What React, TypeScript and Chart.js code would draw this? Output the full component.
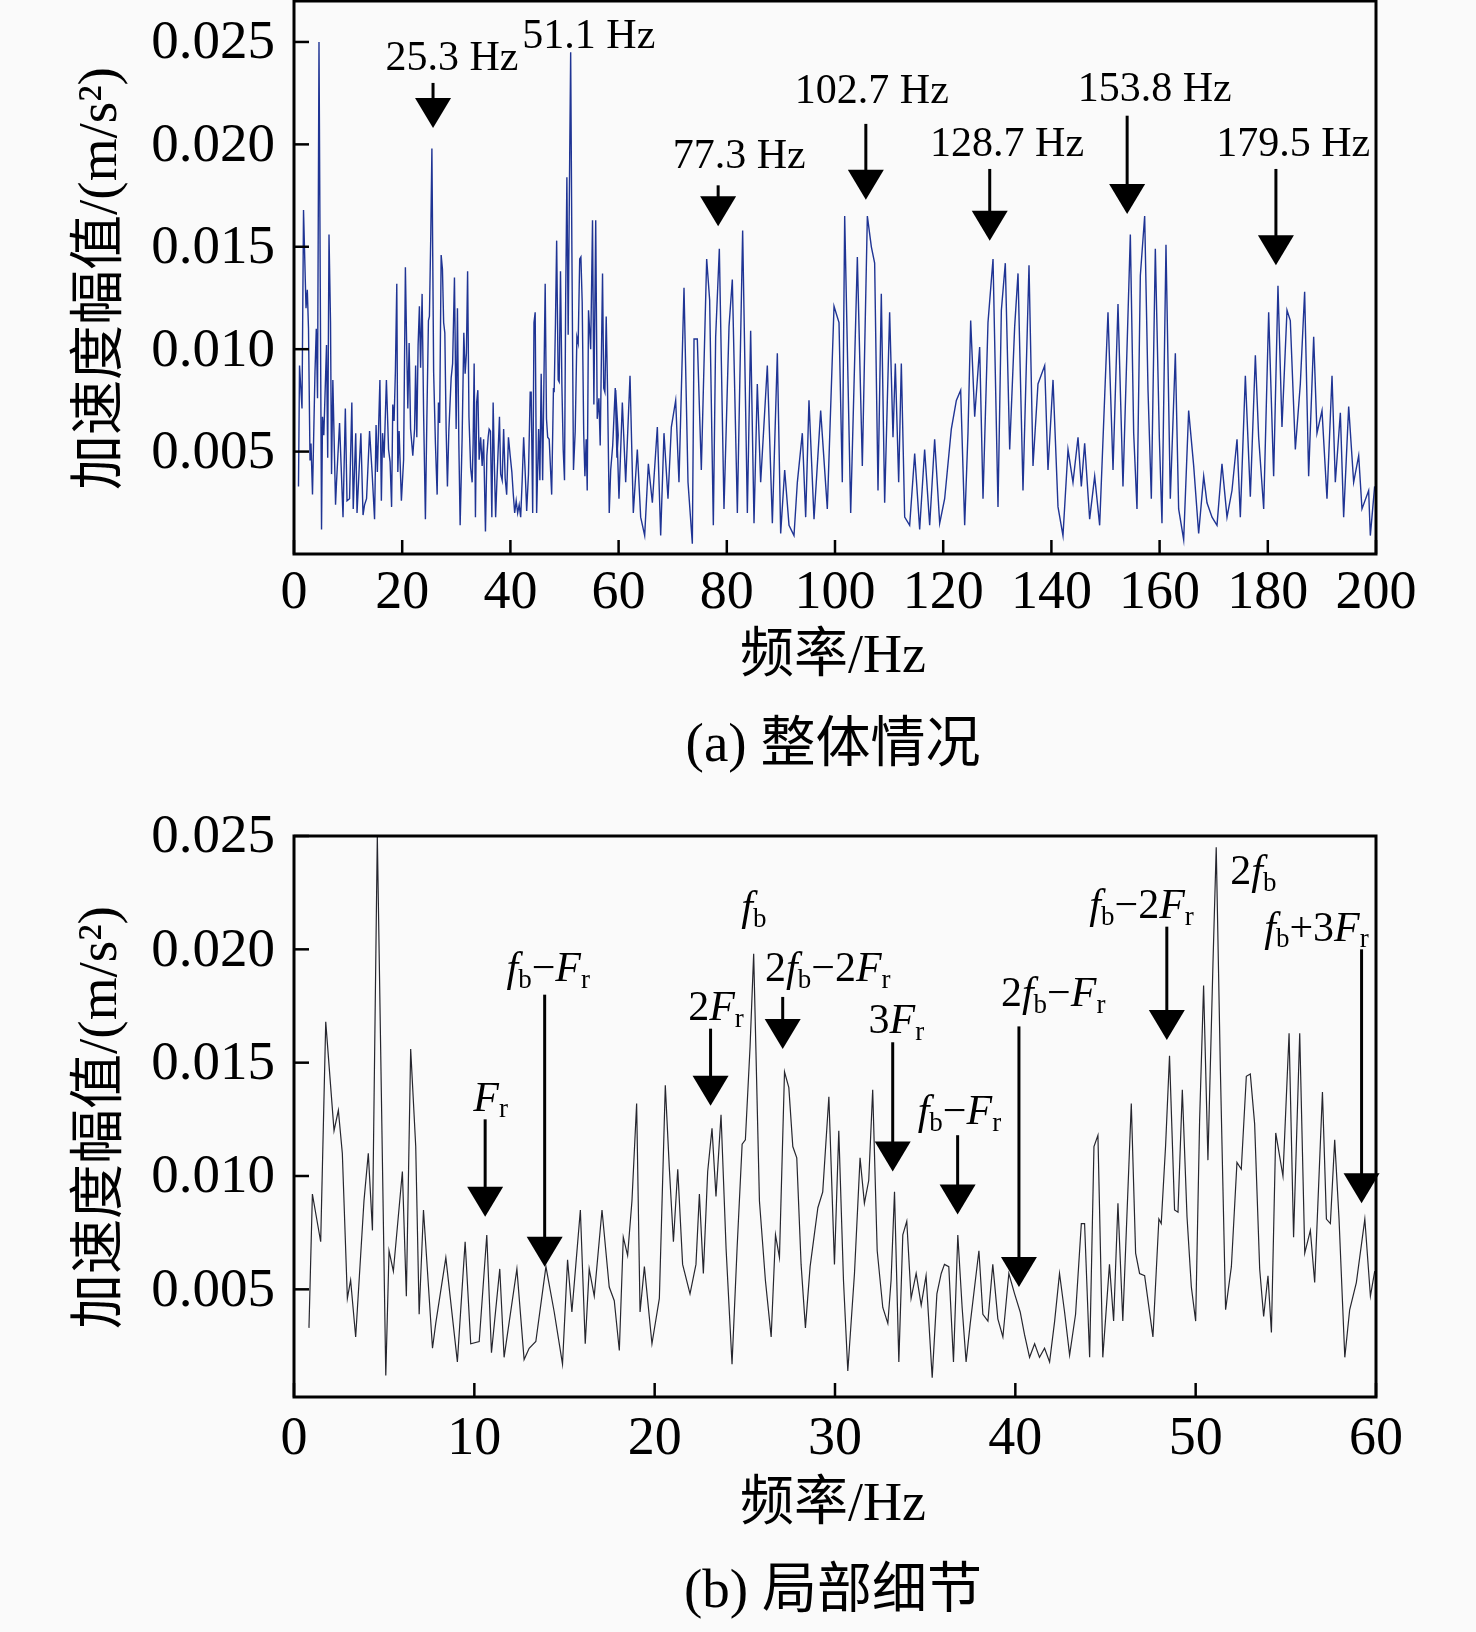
import React, { useEffect, useRef } from "react";
import { Chart, registerables } from "chart.js";

Chart.register(...registerables);

// ---------- data ----------
// 0.8 – 60 Hz band (shown in both panels)
const freqLow = [
  0.83, 1.02, 1.48, 1.76, 2.22, 2.46, 2.68, 2.96, 3.14, 3.42,
  3.88, 4.12, 4.35, 4.62, 5.09, 5.27, 5.51, 6.01, 6.23, 6.47,
  6.75, 6.94, 7.18, 7.68, 7.86, 8.42, 9.06, 9.49, 9.8, 10.27,
  10.69, 10.95, 11.41, 11.65, 12.36, 12.76, 13.04, 13.41, 13.97, 14.43,
  14.89, 15.17, 15.41, 15.63, 15.88, 16.15, 16.37, 16.65, 17.08, 17.48,
  17.76, 18.04, 18.26, 18.5, 18.74, 19.0, 19.19, 19.43, 19.85, 20.26,
  20.59, 20.81, 21.04, 21.28, 21.55, 21.96, 22.29, 22.48, 22.7, 22.94,
  23.18, 23.4, 23.68, 23.96, 24.29, 24.57, 24.85, 25.03, 25.29, 25.49,
  25.81, 26.14, 26.46, 26.7, 26.92, 27.2, 27.44, 27.66, 27.88, 28.12,
  28.36, 28.62, 29.05, 29.32, 29.66, 29.97, 30.21, 30.47, 30.71, 31.08,
  31.39, 31.63, 31.87, 32.09, 32.34, 32.65, 32.93, 33.11, 33.3, 33.54,
  33.76, 33.98, 34.22, 34.5, 34.78, 35.05, 35.39, 35.65, 35.89, 36.07,
  36.31, 36.57, 36.81, 37.05, 37.27, 37.5, 37.98, 38.2, 38.48, 38.75,
  39.03, 39.31, 39.64, 39.96, 40.27, 40.51, 40.79, 41.07, 41.34, 41.62,
  41.9, 42.18, 42.45, 42.73, 43.01, 43.34, 43.66, 43.84, 44.12, 44.36,
  44.58, 44.85, 45.22, 45.45, 45.69, 45.96, 46.43, 46.67, 46.89, 47.17,
  47.63, 47.96, 48.09, 48.33, 48.55, 48.83, 49.02, 49.26, 49.52, 49.76,
  50.0, 50.22, 50.44, 50.68, 50.96, 51.14, 51.37, 51.66, 51.98, 52.29,
  52.53, 52.81, 53.03, 53.27, 53.55, 53.77, 54.01, 54.2, 54.44, 54.84,
  55.18, 55.43, 55.77, 56.05, 56.36, 56.6, 57.03, 57.25, 57.47, 57.71,
  57.95, 58.27, 58.54, 58.91, 59.38, 59.69, 59.93,
];
const ampLow = [
  0.0033, 0.0092, 0.0071, 0.0168, 0.012, 0.0129, 0.011, 0.0046, 0.0054, 0.0029,
  0.0089, 0.011, 0.0076, 0.025, 0.0012, 0.0067, 0.0058, 0.0102, 0.0047, 0.0156,
  0.0113, 0.0039, 0.0085, 0.0024, 0.0035, 0.0064, 0.0018, 0.0071, 0.0026, 0.0027,
  0.0074, 0.0022, 0.0059, 0.002, 0.0059, 0.0019, 0.0024, 0.0027, 0.006, 0.004,
  0.0017, 0.0063, 0.004, 0.0061, 0.0085, 0.0026, 0.0059, 0.0047, 0.0085, 0.0051,
  0.0045, 0.0023, 0.0073, 0.0065, 0.0089, 0.0132, 0.004, 0.006, 0.0026, 0.0046,
  0.014, 0.0104, 0.0071, 0.0103, 0.0061, 0.0048, 0.0061, 0.0092, 0.0057, 0.0102,
  0.0121, 0.0091, 0.0127, 0.0068, 0.0017, 0.0068, 0.0114, 0.0116, 0.0157, 0.0198,
  0.0089, 0.0054, 0.0029, 0.0074, 0.0064, 0.0146, 0.0139, 0.0113, 0.0108, 0.0061,
  0.0033, 0.006, 0.0086, 0.0093, 0.0135, 0.0061, 0.012, 0.0054, 0.0014, 0.0057,
  0.0108, 0.0088, 0.0098, 0.0138, 0.0067, 0.0042, 0.0035, 0.0054, 0.0093, 0.0018,
  0.0074, 0.008, 0.0046, 0.0057, 0.0043, 0.0056, 0.0011, 0.0048, 0.0057, 0.0061,
  0.006, 0.0018, 0.0074, 0.0042, 0.0018, 0.0035, 0.0067, 0.0039, 0.0036, 0.0061,
  0.0037, 0.0029, 0.0057, 0.0048, 0.004, 0.003, 0.002, 0.0026, 0.002, 0.0024,
  0.0018, 0.0036, 0.0057, 0.004, 0.0021, 0.0039, 0.0079, 0.0079, 0.002, 0.0113,
  0.0118, 0.002, 0.0061, 0.0036, 0.0088, 0.0036, 0.0132, 0.0066, 0.0057, 0.0056,
  0.0029, 0.0081, 0.0079, 0.0113, 0.0153, 0.0085, 0.0084, 0.0138, 0.0082, 0.0051,
  0.0036, 0.0125, 0.0184, 0.0107, 0.0194, 0.0245, 0.0147, 0.0041, 0.006, 0.0106,
  0.0103, 0.0144, 0.0145, 0.0123, 0.0059, 0.0038, 0.0056, 0.0031, 0.0119, 0.01,
  0.0163, 0.0073, 0.0163, 0.0066, 0.0076, 0.0053, 0.0137, 0.0081, 0.0079, 0.0116,
  0.0081, 0.002, 0.0041, 0.0053, 0.0081, 0.0047, 0.0058,
];

// 60 – 200 Hz band (panel a only)
const freqHigh = [
  59.46, 60.07, 60.69, 61.31, 62.11, 62.72, 63.46, 64.08, 64.82, 65.5,
  66.24, 67.16, 67.78, 68.39, 69.13, 69.75, 70.55, 71.16, 72.09, 72.83,
  73.63, 73.94, 74.55, 75.29, 76.28, 76.83, 77.51, 77.94, 78.62, 79.48,
  80.41, 81.02, 81.95, 82.93, 83.8, 84.41, 85.03, 85.64, 86.26, 87.49,
  88.42, 89.34, 89.96, 90.7, 91.5, 92.42, 93.04, 93.96, 94.58, 95.19,
  96.12, 97.35, 98.58, 99.82, 100.74, 101.35, 101.79, 102.9, 104.13, 105.05,
  105.98,
  106.72, 107.33, 107.95, 108.56, 109.18, 110.1, 110.72, 111.15, 111.77, 112.26,
  112.88, 113.8, 114.73, 115.65, 116.57, 117.5, 118.42, 119.35, 120.27, 121.5,
  122.43, 123.23, 123.97, 124.58, 125.08, 125.82, 126.74, 127.36, 128.28, 129.21,
  130.13, 130.75, 131.48, 132.29, 133.21, 133.83, 134.75, 135.86, 136.6, 137.52,
  138.76, 139.37, 140.3, 141.22, 142.14, 143.07, 143.99, 144.92, 145.53, 146.15,
  147.07, 148.0, 148.92, 149.85, 150.46, 151.39, 152.31, 153.23,
  154.59, 155.21, 155.82, 156.44, 157.24, 157.86, 158.47, 159.21, 159.95, 160.44,
  161.18, 161.98, 162.91, 163.52, 164.45, 165.37, 166.3, 167.22, 168.15, 168.76,
  169.69, 170.61, 171.53, 172.46, 173.38, 174.31, 174.92, 175.85, 176.77, 177.7,
  178.31, 179.24, 180.16, 181.08, 181.88, 182.62, 183.55, 184.16, 185.09, 186.01,
  186.81, 187.55, 188.48, 189.09, 190.02, 190.94, 191.87, 192.48, 193.41, 194.02,
  194.95, 195.87, 196.8, 197.41, 198.64, 198.95, 199.75,
];
const ampHigh = [
  0.008, 0.0027, 0.0074, 0.0035, 0.0087, 0.002, 0.0051, 0.0018, 0.0009, 0.0044,
  0.0025, 0.0062, 0.0009, 0.0059, 0.0027, 0.0062, 0.0075, 0.0035, 0.013, 0.0035,
  0.0005, 0.0105, 0.0105, 0.0041, 0.0144, 0.0124, 0.0014, 0.0106, 0.0149, 0.0022,
  0.0111, 0.0134, 0.002, 0.0158, 0.002, 0.0109, 0.0015, 0.0083, 0.0035, 0.0092,
  0.0015, 0.0098, 0.001, 0.0041, 0.0014, 0.0009, 0.0035, 0.0059, 0.0018, 0.0075,
  0.0017, 0.007, 0.0022, 0.0121, 0.0113, 0.0035, 0.0165, 0.002, 0.0145, 0.0043,
  0.0165,
  0.015, 0.0142, 0.0031, 0.0127, 0.0025, 0.0118, 0.0057, 0.0093, 0.0035, 0.0093,
  0.0018, 0.0014, 0.0049, 0.0012, 0.0051, 0.0014, 0.0056, 0.0015, 0.0027, 0.0061,
  0.0075, 0.008, 0.0014, 0.0059, 0.0114, 0.0067, 0.0101, 0.0027, 0.0113, 0.0144,
  0.0023, 0.0119, 0.0142, 0.0051, 0.0111, 0.0137, 0.0031, 0.0141, 0.0043, 0.0083,
  0.0092, 0.0041, 0.0085, 0.0023, 0.0009, 0.0051, 0.0035, 0.0057, 0.0033, 0.0054,
  0.0017, 0.0038, 0.0014, 0.0077, 0.0118, 0.0041, 0.0122, 0.0033,
  0.0156, 0.0059, 0.0022, 0.0136, 0.0165, 0.008, 0.0027, 0.0149, 0.0057, 0.0015,
  0.0151, 0.0027, 0.0098, 0.0022, 0.0007, 0.007, 0.0043, 0.001, 0.0038, 0.0025,
  0.0018, 0.0014, 0.0044, 0.0018, 0.0031, 0.0056, 0.0018, 0.0087, 0.0028, 0.0097,
  0.0057, 0.0022, 0.0118, 0.0038, 0.0131, 0.0062, 0.0119, 0.0114, 0.0051, 0.0083,
  0.0128, 0.0038, 0.0106, 0.0059, 0.007, 0.0027, 0.0087, 0.0035, 0.0069, 0.0018,
  0.0072, 0.0035, 0.0048, 0.0022, 0.0031, 0.0009, 0.0033,
];

const xTicksA = [0, 20, 40, 60, 80, 100, 120, 140, 160, 180, 200];
const xTicksB = [0, 10, 20, 30, 40, 50, 60];
const yTickValues = [0.005, 0.01, 0.015, 0.02, 0.025];
const yTickLabels = ["0.005", "0.010", "0.015", "0.020", "0.025"];

const yTitle = "加速度幅值/(m/s²)";
const xTitle = "频率/Hz";
const captionA = "(a) 整体情况";
const captionB = "(b) 局部细节";

// annotations: label text, label centre (lx, ly), arrow x, arrow shaft top, arrow tip (data units)
type Ann = { text: string; lx: number; ly: number; ax?: number; top?: number; tip?: number };
const annotationsA: Ann[] = [
  { text: "25.3 Hz", lx: 29.2, ly: 0.0243, ax: 25.7, top: 0.023, tip: 0.0208 },
  { text: "51.1 Hz", lx: 54.5, ly: 0.0254 },
  { text: "77.3 Hz", lx: 82.3, ly: 0.0195, ax: 78.4, top: 0.018, tip: 0.016 },
  { text: "102.7 Hz", lx: 106.8, ly: 0.0227, ax: 105.7, top: 0.021, tip: 0.0173 },
  { text: "128.7 Hz", lx: 131.8, ly: 0.0201, ax: 128.6, top: 0.0188, tip: 0.0153 },
  { text: "153.8 Hz", lx: 159.1, ly: 0.0228, ax: 154.0, top: 0.0214, tip: 0.0166 },
  { text: "179.5 Hz", lx: 184.7, ly: 0.0201, ax: 181.5, top: 0.0188, tip: 0.0141 },
];
const annotationsB: Ann[] = [
  { text: "F_r", lx: 10.9, ly: 0.0135, ax: 10.6, top: 0.0125, tip: 0.0082 },
  { text: "f_b−F_r", lx: 14.1, ly: 0.0192, ax: 13.9, top: 0.018, tip: 0.006 },
  { text: "2F_r", lx: 23.4, ly: 0.0175, ax: 23.1, top: 0.0165, tip: 0.0131 },
  { text: "f_b", lx: 25.5, ly: 0.0219 },
  { text: "2f_b−2F_r", lx: 29.6, ly: 0.0192, ax: 27.1, top: 0.0179, tip: 0.0156 },
  { text: "3F_r", lx: 33.4, ly: 0.0169, ax: 33.2, top: 0.0159, tip: 0.0102 },
  { text: "f_b−F_r", lx: 36.9, ly: 0.0129, ax: 36.8, top: 0.0118, tip: 0.0083 },
  { text: "2f_b−F_r", lx: 42.1, ly: 0.0181, ax: 40.2, top: 0.0166, tip: 0.0051 },
  { text: "f_b−2F_r", lx: 47.0, ly: 0.022, ax: 48.4, top: 0.021, tip: 0.016 },
  { text: "2f_b", lx: 53.2, ly: 0.0235 },
  { text: "f_b+3F_r", lx: 56.7, ly: 0.021, ax: 59.2, top: 0.02, tip: 0.0088 },
];

// ---------- drawing helpers ----------
const SERIF = '"Liberation Serif", "Times New Roman", "Noto Sans CJK SC", serif';
const MIXED = '"Liberation Serif", "Noto Sans CJK SC", serif';
const BG = "#fafafa";

function pts(fs: number[], vs: number[]) {
  const n = Math.min(fs.length, vs.length);
  const out: { x: number; y: number }[] = [];
  for (let i = 0; i < n; i++) out.push({ x: fs[i], y: vs[i] });
  return out;
}

type Seg = { t: string; it: boolean; sub: boolean };
function parseRich(s: string): Seg[] {
  const segs: Seg[] = [];
  for (let i = 0; i < s.length; i++) {
    const c = s[i];
    if (c === "_" && i + 1 < s.length) {
      segs.push({ t: s[i + 1], it: false, sub: true });
      i++;
      continue;
    }
    segs.push({ t: c, it: c === "f" || c === "F", sub: false });
  }
  return segs;
}

function drawRich(ctx: CanvasRenderingContext2D, s: string, cx: number, cy: number, size: number) {
  const segs = parseRich(s);
  const fontOf = (g: Seg) =>
    g.sub ? `${Math.round(size * 0.64)}px ${SERIF}` : `${g.it ? "italic " : ""}${size}px ${SERIF}`;
  const widths = segs.map((g) => {
    ctx.font = fontOf(g);
    return ctx.measureText(g.t).width;
  });
  const total = widths.reduce((a, b) => a + b, 0);
  let x = cx - total / 2;
  const base = cy + size * 0.33;
  ctx.textAlign = "left";
  ctx.textBaseline = "alphabetic";
  segs.forEach((g, i) => {
    ctx.font = fontOf(g);
    ctx.fillText(g.t, x, g.sub ? base + size * 0.16 : base);
    x += widths[i];
  });
}

type PanelCfg = {
  xTicks: number[];
  tickLabelGap: number;
  xTitleGap: number;
  captionGap: number;
  caption: string;
  annotations: Ann[];
};

function decorPlugin(cfg: PanelCfg) {
  return {
    id: "decor",
    afterDatasetsDraw(chart: any) {
      const { ctx, chartArea } = chart;
      const { left, right, top, bottom } = chartArea;
      const xs = chart.scales.x;
      const ys = chart.scales.y;
      ctx.save();
      ctx.fillStyle = "#000";
      ctx.strokeStyle = "#000";

      // inward tick marks
      ctx.lineWidth = 2.5;
      cfg.xTicks.forEach((t) => {
        const px = xs.getPixelForValue(t);
        ctx.beginPath();
        ctx.moveTo(px, bottom);
        ctx.lineTo(px, bottom - 14);
        ctx.stroke();
      });
      yTickValues.forEach((v) => {
        const py = ys.getPixelForValue(v);
        ctx.beginPath();
        ctx.moveTo(left, py);
        ctx.lineTo(left + 15, py);
        ctx.stroke();
      });

      // frame
      ctx.lineWidth = 3;
      ctx.strokeRect(left, top, right - left, bottom - top);

      // tick labels
      ctx.font = `54px ${SERIF}`;
      ctx.textAlign = "center";
      ctx.textBaseline = "middle";
      cfg.xTicks.forEach((t) => {
        ctx.fillText(String(t), xs.getPixelForValue(t), bottom + cfg.tickLabelGap);
      });
      ctx.font = `55px ${SERIF}`;
      ctx.textAlign = "right";
      yTickValues.forEach((v, i) => {
        ctx.fillText(yTickLabels[i], left - 19, ys.getPixelForValue(v) + 2);
      });

      // axis titles & caption
      const cx = (left + right) / 2 - 2;
      ctx.textAlign = "center";
      ctx.font = `54px ${MIXED}`;
      ctx.fillText(xTitle, cx, bottom + cfg.xTitleGap);
      ctx.font = `55px ${MIXED}`;
      ctx.fillText(cfg.caption, cx, bottom + cfg.captionGap);

      ctx.save();
      ctx.translate(102, (top + bottom) / 2 + 1);
      ctx.rotate(-Math.PI / 2);
      ctx.font = `55px ${MIXED}`;
      ctx.textAlign = "center";
      ctx.textBaseline = "middle";
      ctx.fillText(yTitle, 0, 0);
      ctx.restore();

      // annotations
      cfg.annotations.forEach((a) => {
        drawRich(ctx, a.text, xs.getPixelForValue(a.lx), ys.getPixelForValue(a.ly), 42);
        if (a.ax !== undefined && a.top !== undefined && a.tip !== undefined) {
          const ax = xs.getPixelForValue(a.ax);
          const pt = ys.getPixelForValue(a.top);
          const tip = ys.getPixelForValue(a.tip);
          const hh = 30;
          const hw = 18;
          ctx.lineWidth = 3;
          ctx.beginPath();
          ctx.moveTo(ax, pt);
          ctx.lineTo(ax, tip - hh + 2);
          ctx.stroke();
          ctx.beginPath();
          ctx.moveTo(ax - hw, tip - hh);
          ctx.lineTo(ax + hw, tip - hh);
          ctx.lineTo(ax, tip);
          ctx.closePath();
          ctx.fill();
        }
      });
      ctx.restore();
    },
  };
}

function makeConfig(
  data: { x: number; y: number }[],
  color: string,
  width: number,
  xMax: number,
  yMin: number,
  yMax: number,
  padding: { left: number; right: number; top: number; bottom: number },
  cfg: PanelCfg
): any {
  return {
    type: "line",
    data: {
      datasets: [
        {
          data,
          borderColor: color,
          borderWidth: width,
          pointRadius: 0,
          tension: 0,
          fill: false,
        },
      ],
    },
    options: {
      animation: false,
      responsive: false,
      devicePixelRatio: 1,
      layout: { padding },
      plugins: { legend: { display: false }, tooltip: { enabled: false } },
      events: [],
      scales: {
        x: { type: "linear", min: 0, max: xMax, display: false },
        y: { type: "linear", min: yMin, max: yMax, display: false },
      },
    },
    plugins: [decorPlugin(cfg)],
  };
}

export default function App() {
  const refA = useRef<HTMLCanvasElement>(null);
  const refB = useRef<HTMLCanvasElement>(null);

  useEffect(() => {
    const dataA = [...pts(freqLow, ampLow), ...pts(freqHigh, ampHigh)];
    const dataB = pts(freqLow, ampLow);
    const chartA = new Chart(
      refA.current as HTMLCanvasElement,
      makeConfig(dataA, "#1f3494", 1.4, 200, 0, 0.027, { left: 294, right: 100, top: 1, bottom: 246 }, {
        xTicks: xTicksA,
        tickLabelGap: 40,
        xTitleGap: 104,
        captionGap: 193,
        caption: captionA,
        annotations: annotationsA,
      })
    );
    const chartB = new Chart(
      refB.current as HTMLCanvasElement,
      makeConfig(dataB, "#26262e", 1.2, 60, 0.00025, 0.025, { left: 294, right: 100, top: 36, bottom: 235 }, {
        xTicks: xTicksB,
        tickLabelGap: 43,
        xTitleGap: 109,
        captionGap: 196,
        caption: captionB,
        annotations: annotationsB,
      })
    );
    return () => {
      chartA.destroy();
      chartB.destroy();
    };
  }, []);

  return (
    <div style={{ position: "absolute", left: 0, top: 0, width: 1476, height: 1632, background: BG }}>
      <canvas
        ref={refA}
        width={1476}
        height={800}
        style={{ position: "absolute", left: 0, top: 0, width: 1476, height: 800 }}
      />
      <canvas
        ref={refB}
        width={1476}
        height={832}
        style={{ position: "absolute", left: 0, top: 800, width: 1476, height: 832 }}
      />
    </div>
  );
}
